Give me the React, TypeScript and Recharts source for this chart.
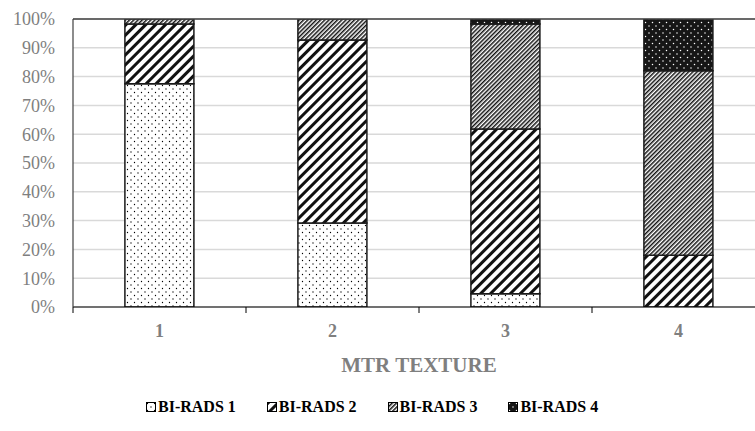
import { Bar, BarChart, CartesianGrid, ReferenceLine, XAxis, YAxis } from "recharts";

const categories = ["1", "2", "3", "4"];
const seriesNames = ["BI-RADS 1", "BI-RADS 2", "BI-RADS 3", "BI-RADS 4"];
const biRads1 = [77.5, 29.2, 4.6, 0];
const biRads2 = [20.8, 63.5, 57.2, 18.0];
const biRads3 = [1.7, 7.3, 36.5, 64.0];
const biRads4 = [0, 0, 1.7, 18.0];
const yTicks = [0, 10, 20, 30, 40, 50, 60, 70, 80, 90, 100];

const data = categories.map((name, i) => ({
  name,
  r1: biRads1[i],
  r2: biRads2[i],
  r3: biRads3[i],
  r4: biRads4[i],
}));

const keys = ["r1", "r2", "r3", "r4"];
const fills = ["url(#dots)", "url(#wideStripes)", "url(#fineStripes)", "url(#darkDots)"];

const FONT = "'Liberation Serif', 'Times New Roman', serif";
const GRAY = "#7f7f7f";
const BAND = 173;

function PatternDefs() {
  return (
    <defs>
      <pattern id="dots" width="7" height="7" patternUnits="userSpaceOnUse">
        <rect width="7" height="7" fill="#fff" />
        <circle cx="1.5" cy="1.5" r="0.65" fill="#000" />
        <circle cx="5" cy="5" r="0.65" fill="#000" />
      </pattern>
      <pattern
        id="wideStripes"
        width="7"
        height="7"
        patternUnits="userSpaceOnUse"
        patternTransform="rotate(45)"
      >
        <rect width="7" height="7" fill="#fff" />
        <rect width="3" height="7" fill="#111" />
      </pattern>
      <pattern
        id="fineStripes"
        width="3"
        height="3"
        patternUnits="userSpaceOnUse"
        patternTransform="rotate(45)"
      >
        <rect width="3" height="3" fill="#fff" />
        <rect width="1.5" height="3" fill="#111" />
      </pattern>
      <pattern id="darkDots" width="7" height="7" patternUnits="userSpaceOnUse">
        <rect width="7" height="7" fill="#161616" />
        <circle cx="1.5" cy="1.5" r="0.75" fill="#fff" />
        <circle cx="5" cy="5" r="0.75" fill="#fff" />
      </pattern>
    </defs>
  );
}

function CategoryTick(props: any) {
  const { x, y, payload } = props;
  const edge = x - BAND / 2;
  return (
    <g>
      <line x1={edge} y1={y - 8} x2={edge} y2={y - 2} stroke="#000" strokeWidth={1} />
      <text
        x={x}
        y={y + 22}
        textAnchor="middle"
        fill={GRAY}
        fontSize={18}
        fontWeight="bold"
        fontFamily={FONT}
      >
        {payload.value}
      </text>
    </g>
  );
}

function PatternLegend() {
  return (
    <div
      style={{
        position: "absolute",
        left: 146,
        top: 397,
        display: "flex",
        fontFamily: FONT,
        fontWeight: "bold",
        fontSize: 16,
        lineHeight: "20px",
        color: "#000",
        whiteSpace: "nowrap",
      }}
    >
      {seriesNames.map((name, i) => (
        <div key={name} style={{ display: "flex", alignItems: "center", marginRight: 31 }}>
          <svg width={10} height={10} style={{ marginRight: 2 }}>
            <rect x={0.5} y={0.5} width={9} height={9} fill={fills[i]} stroke="#000" />
          </svg>
          <span>{name}</span>
        </div>
      ))}
    </div>
  );
}

export default function App() {
  return (
    <div
      style={{
        position: "absolute",
        left: 0,
        top: 0,
        width: 755,
        height: 431,
        overflow: "hidden",
        background: "#fff",
      }}
    >
      <BarChart
        width={765}
        height={431}
        data={data}
        barCategoryGap="30%"
        margin={{ top: 19, right: 0, bottom: 0, left: 0 }}
      >
        <PatternDefs />
        <CartesianGrid vertical={false} stroke="#d9d9d9" strokeWidth={1.5} />
        <XAxis
          dataKey="name"
          height={124}
          axisLine={{ stroke: "#000", strokeWidth: 1.2 }}
          tickLine={false}
          tick={<CategoryTick />}
          interval={0}
          label={{
            value: "MTR TEXTURE",
            position: "insideTop",
            offset: 50,
            fill: GRAY,
            fontSize: 21,
            fontWeight: "bold",
            fontFamily: FONT,
          }}
        />
        <YAxis
          width={73}
          domain={[0, 100]}
          ticks={yTicks}
          allowDataOverflow
          axisLine={{ stroke: "#404040", strokeWidth: 1.2 }}
          tickLine={false}
          tickSize={0}
          tickMargin={18}
          tickFormatter={(v: number) => `${v}%`}
          tick={{ fill: GRAY, fontSize: 18, fontFamily: FONT }}
        />
        <ReferenceLine y={100} stroke="#404040" strokeWidth={1.5} />
        {keys.map((k, i) => (
          <Bar
            key={k}
            dataKey={k}
            name={seriesNames[i]}
            stackId="a"
            fill={fills[i]}
            stroke="#1a1a1a"
            strokeWidth={1.5}
            isAnimationActive={false}
          />
        ))}
      </BarChart>
      <PatternLegend />
    </div>
  );
}
